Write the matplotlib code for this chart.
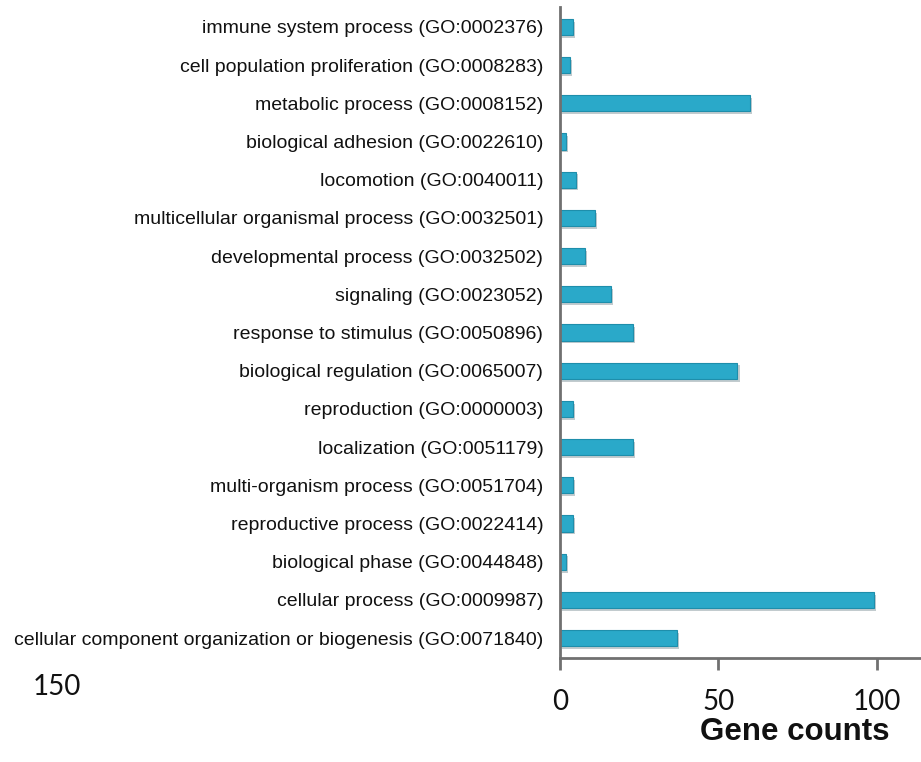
import numpy as np
from matplotlib import pyplot as plt
from matplotlib import patheffects as pe

terms = [
    'immune system process (GO:0002376)',
    'cell population proliferation (GO:0008283)',
    'metabolic process (GO:0008152)',
    'biological adhesion (GO:0022610)',
    'locomotion (GO:0040011)',
    'multicellular organismal process (GO:0032501)',
    'developmental process (GO:0032502)',
    'signaling (GO:0023052)',
    'response to stimulus (GO:0050896)',
    'biological regulation (GO:0065007)',
    'reproduction (GO:0000003)',
    'localization (GO:0051179)',
    'multi-organism process (GO:0051704)',
    'reproductive process (GO:0022414)',
    'biological phase (GO:0044848)',
    'cellular process (GO:0009987)',
    'cellular component organization or biogenesis (GO:0071840)',
]
counts = [4, 3, 60, 2, 5, 11, 8, 16, 23, 56, 4, 23, 4, 4, 2, 99, 37]
xticks = [0, 50, 100]

label_font = ['Liberation Sans', 'DejaVu Sans']
num_font = ['Lato', 'DejaVu Sans']

fig = plt.figure(figsize=(9.21, 7.62), dpi=100)
# axes box in pixels: left spine at x=560, top at y=7, bottom axis at y=658
ax = fig.add_axes([560 / 921, 1 - 658 / 762, 361 / 921, 651 / 762])

ypos = np.arange(len(terms))
bars = ax.barh(ypos, counts, height=0.42, color='#2aa9c9', edgecolor='#1e8eab', linewidth=0.8)
for b in bars:
    b.set_path_effects([pe.SimplePatchShadow(offset=(1.5, -2), alpha=0.25), pe.Normal()])

ax.set_ylim(len(terms) - 0.48, -0.52)
ax.set_xlim(0, 113.9)
ax.set_yticks(ypos)
ax.set_yticklabels(terms, family=label_font, fontsize=14, color='#111111')
ax.tick_params(axis='y', length=0, pad=12)

ax.set_xticks(xticks)
ax.set_xticklabels([str(t) for t in xticks], family=num_font, fontsize=20, color='#111111')
ax.tick_params(axis='x', direction='out', length=8.6, width=2, color='#707070', pad=14)

for side in ['top', 'right']:
    ax.spines[side].set_visible(False)
for side in ['left', 'bottom']:
    ax.spines[side].set_color('#707070')
    ax.spines[side].set_linewidth(2)

ax.set_xlabel('Gene counts', family=label_font, fontsize=22.5, fontweight='bold', color='#111111')
ax.xaxis.set_label_coords((795 - 560) / 361, (658 - 732) / 651)
ax.xaxis.label.set_va('center')

fig.text(57 / 921, 1 - 687 / 762, '150', family=num_font, fontsize=20, color='#111111',
         ha='center', va='center')

fig.savefig('out.png', dpi=100)
